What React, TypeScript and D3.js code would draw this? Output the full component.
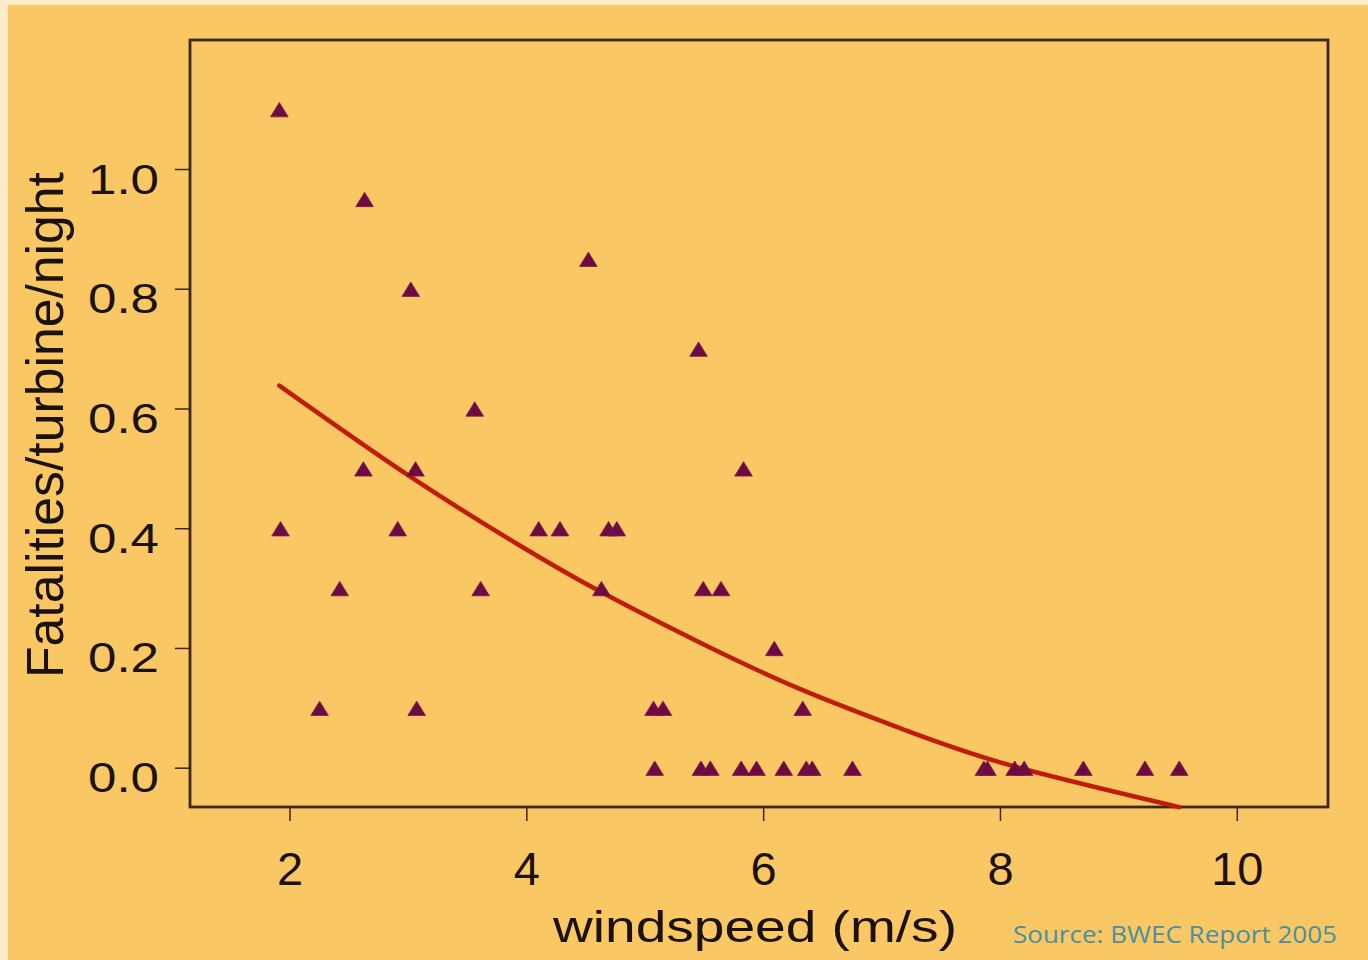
import React from "react";
import * as d3 from "d3";

// Scatter data: windspeed (m/s) vs fatalities/turbine/night
const windspeed = [
  1.91, 2.63, 4.52, 3.02, 5.45, 3.56,
  2.62, 3.06, 5.83,
  1.92, 2.91, 4.10, 4.28, 4.69, 4.76,
  2.42, 3.61, 4.63, 5.49, 5.64,
  6.09,
  2.25, 3.07, 5.07, 5.15, 6.33,
  5.08, 5.47, 5.55, 5.81, 5.94, 6.17, 6.36, 6.41, 6.75, 7.86, 7.89, 8.12, 8.20, 8.70, 9.22, 9.51,
];
const fatalities = [
  1.1, 0.95, 0.85, 0.8, 0.7, 0.6,
  0.5, 0.5, 0.5,
  0.4, 0.4, 0.4, 0.4, 0.4, 0.4,
  0.3, 0.3, 0.3, 0.3, 0.3,
  0.2,
  0.1, 0.1, 0.1, 0.1, 0.1,
  0, 0, 0, 0, 0, 0, 0, 0, 0, 0, 0, 0, 0, 0, 0, 0,
];

// Fitted curve
const fitX = [1.91, 3.0, 3.94, 4.62, 5.46, 6.31, 7.15, 8.08, 9.51];
const fitY = [0.639, 0.489, 0.372, 0.295, 0.21, 0.132, 0.067, 0.005, -0.065];

const xTicks = [2, 4, 6, 8, 10];
const yTicks = [0.0, 0.2, 0.4, 0.6, 0.8, 1.0];

const xTitle = "windspeed (m/s)";
const yTitle = "Fatalities/turbine/night";
const source = "Source: BWEC Report 2005";

export default function App() {
  const W = 1368;
  const H = 960;
  const box = { left: 190, right: 1328, top: 40, bottom: 807 };

  const x = d3.scaleLinear().domain([2, 10]).range([290, 1237.3]);
  const y = d3.scaleLinear().domain([0, 1]).range([768.2, 169.5]);

  const line = d3
    .line<number>()
    .x((d, i) => x(fitX[i]))
    .y((d, i) => y(fitY[i]))
    .curve(d3.curveNatural);

  const tri = (cx: number, cy: number) => {
    const w = 8.8;
    const h = 7.2;
    return `M${cx},${cy - h}L${cx + w},${cy + h}L${cx - w},${cy + h}Z`;
  };

  const axisColor = "#3b2818";
  const font = "'Liberation Sans', Arial, sans-serif";

  return (
    <svg
      width={W}
      height={H}
      style={{ position: "absolute", left: 0, top: 0, display: "block" }}
    >
      <rect x={0} y={0} width={W} height={H} fill="#fdeccb" />
      <rect x={8} y={5} width={W - 8} height={H - 5} fill="#f9c763" />

      {/* plot box */}
      <rect
        x={box.left}
        y={box.top}
        width={box.right - box.left}
        height={box.bottom - box.top}
        fill="none"
        stroke={axisColor}
        strokeWidth={2.8}
      />

      {/* y ticks */}
      {yTicks.map((t) => (
        <g key={"y" + t}>
          <line
            x1={175}
            x2={box.left}
            y1={y(t)}
            y2={y(t)}
            stroke={axisColor}
            strokeWidth={1.5}
          />
          <text
            x={159}
            y={y(t) + 24}
            textAnchor="end"
            fontFamily={font}
            fontSize={43}
            fill="#1a1208"
            textLength={71}
            lengthAdjust="spacingAndGlyphs"
          >
            {t.toFixed(1)}
          </text>
        </g>
      ))}

      {/* x ticks */}
      {xTicks.map((t) => (
        <g key={"x" + t}>
          <line
            x1={x(t)}
            x2={x(t)}
            y1={box.bottom}
            y2={821}
            stroke={axisColor}
            strokeWidth={1.5}
          />
          <text
            x={x(t)}
            y={885}
            textAnchor="middle"
            fontFamily={font}
            fontSize={47}
            fill="#1a1208"
          >
            {t}
          </text>
        </g>
      ))}

      {/* fitted curve */}
      <path
        d={line(fitX) || ""}
        fill="none"
        stroke="#c01c02"
        strokeWidth={4.5}
        strokeLinecap="round"
      />

      {/* points */}
      {windspeed.map((w, i) => (
        <path
          key={"p" + i}
          d={tri(x(w), y(fatalities[i]))}
          fill="#6d0a44"
          stroke="#7a1a4a"
          strokeWidth={0.8}
        />
      ))}

      {/* axis titles */}
      <text
        x={553}
        y={942}
        fontFamily={font}
        fontSize={45}
        fill="#1a1208"
        textLength={404}
        lengthAdjust="spacingAndGlyphs"
      >
        {xTitle}
      </text>
      <text
        transform="translate(63,425) rotate(-90)"
        textAnchor="middle"
        fontFamily={font}
        fontSize={52}
        fill="#1a1208"
        textLength={506}
        lengthAdjust="spacingAndGlyphs"
      >
        {yTitle}
      </text>

      <text
        x={1013}
        y={943}
        fontFamily="'Open Sans', sans-serif"
        fontSize={23}
        fill="#4a8fa2"
        textLength={324}
        lengthAdjust="spacingAndGlyphs"
      >
        {source}
      </text>
    </svg>
  );
}
